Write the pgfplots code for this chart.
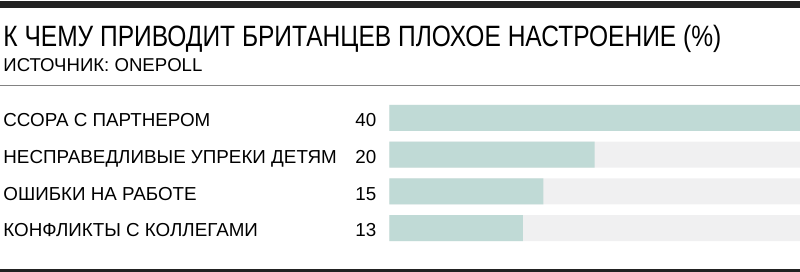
\documentclass[border=0pt]{standalone}
\usepackage{pgfplots}
\pgfplotsset{compat=1.18}
\usepackage{pgfplotstable}
\usepackage{fontspec}
\setmainfont{Liberation Sans}
\newfontfamily\titlefont[FakeStretch=0.835]{Liberation Sans}
\definecolor{barc}{RGB}{192,218,214}
\definecolor{trackc}{RGB}{240,240,241}
\definecolor{darkl}{RGB}{34,34,34}
\definecolor{grayl}{RGB}{130,130,130}
\pgfplotstableread[col sep=comma]{
y,val,track
1,40,40
2,20,40
3,15,40
4,13,40
}\datatable
\begin{document}
\begin{tikzpicture}[x=0.5pt,y=0.5pt]
\useasboundingbox (0,0) rectangle (800,272);
% rules
\fill[darkl] (0,272-1) rectangle (800,272-8.5);
\fill[grayl] (0,272-85) rectangle (800,272-86.2);
\fill[darkl] (0,0) rectangle (800,2.7);
% title
\node[anchor=base west, inner sep=0pt, font=\titlefont\fontsize{14.7pt}{18pt}\selectfont] at (3,272-46.7) {К ЧЕМУ ПРИВОДИТ БРИТАНЦЕВ ПЛОХОЕ НАСТРОЕНИЕ (\%)};
\node[anchor=base west, inner sep=0pt, font=\fontsize{9.3pt}{11pt}\selectfont] at (3,272-71.7) {ИСТОЧНИК: ONEPOLL};
\begin{axis}[
  at={(194.65pt,86.175pt)}, anchor=north west,
  width=205.35pt, height=73.4pt, scale only axis,
  xmin=0, xmax=40, ymin=0.5, ymax=4.5, y dir=reverse,
  xbar, bar width=13pt, bar shift=0pt,
  axis line style={draw=none}, major tick length=0pt,
  xtick=\empty, ytick={1,2,3,4},
  yticklabels={ССОРА С ПАРТНЕРОМ, НЕСПРАВЕДЛИВЫЕ УПРЕКИ ДЕТЯМ, ОШИБКИ НА РАБОТЕ, КОНФЛИКТЫ С КОЛЛЕГАМИ},
  yticklabel style={anchor=base west, inner sep=0pt, xshift=-193.15pt, yshift=-4.35pt, font=\fontsize{9.4pt}{11pt}\selectfont},
  clip=false,
]
\addplot[draw=none, fill=trackc, point meta=explicit symbolic,
  nodes near coords={\pgfplotspointmeta},
  every node near coord/.style={anchor=base east, inner sep=0pt, xshift=-211.65pt, yshift=-4.35pt, font=\fontsize{9.4pt}{11pt}\selectfont, text=black}]
  table[x=track, y=y, meta=val] {\datatable};
\addplot[draw=none, fill=barc] table[x=val, y=y] {\datatable};
\end{axis}
\end{tikzpicture}
\end{document}
